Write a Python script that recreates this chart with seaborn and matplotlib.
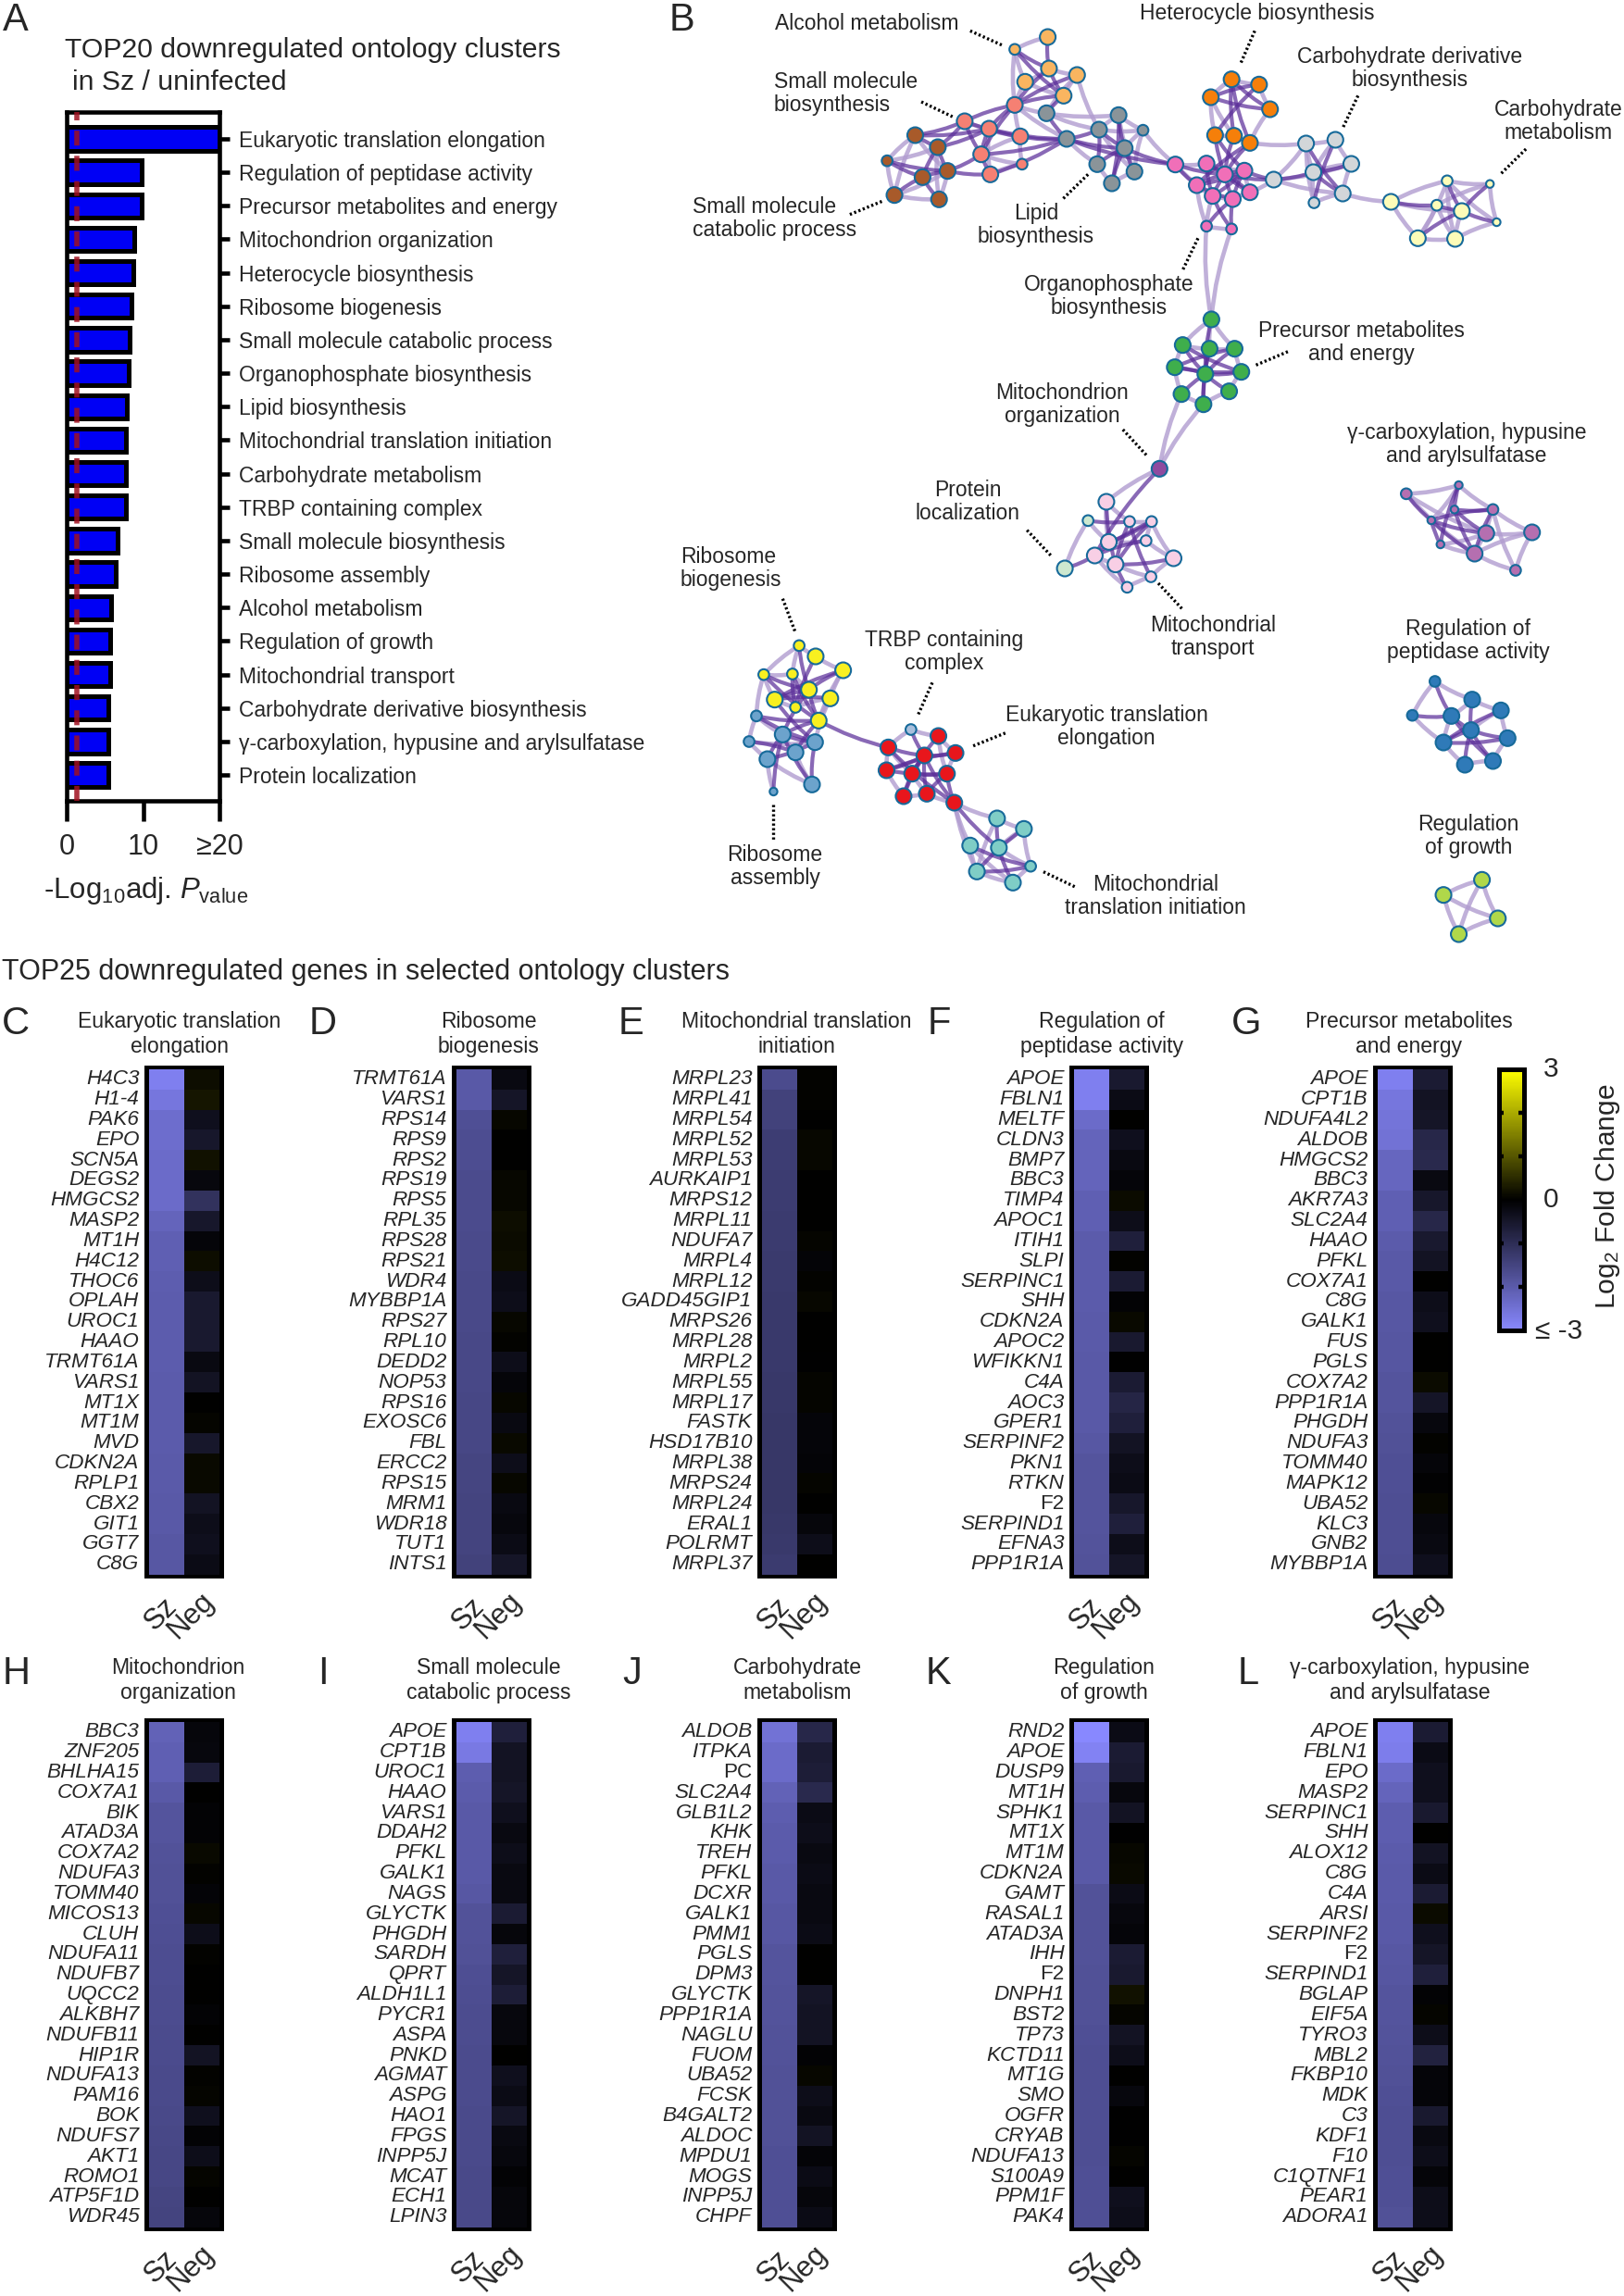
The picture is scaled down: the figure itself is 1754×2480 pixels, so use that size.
import numpy as np
import pandas as pd
import matplotlib
matplotlib.use('Agg')
import matplotlib.pyplot as plt
from matplotlib.colors import LinearSegmentedColormap
from matplotlib.patches import FancyArrowPatch
from matplotlib.spines import Spine
from matplotlib.transforms import ScaledTranslation
import seaborn as sns

W, H = 1754, 2480

# panel A
a_terms = ['Eukaryotic translation elongation', 'Regulation of peptidase activity',
           'Precursor metabolites and energy', 'Mitochondrion organization',
           'Heterocycle biosynthesis', 'Ribosome biogenesis', 'Small molecule catabolic process',
           'Organophosphate biosynthesis', 'Lipid biosynthesis', 'Mitochondrial translation initiation',
           'Carbohydrate metabolism', 'TRBP containing complex', 'Small molecule biosynthesis',
           'Ribosome assembly', 'Alcohol metabolism', 'Regulation of growth', 'Mitochondrial transport',
           'Carbohydrate derivative biosynthesis', 'γ-carboxylation, hypusine and arylsulfatase',
           'Protein localization']
a_values = [20, 9.8, 9.8, 8.9, 8.7, 8.5, 8.2, 8.1, 7.9, 7.8, 7.7, 7.7, 6.7, 6.4, 5.8, 5.7, 5.7, 5.5, 5.4, 5.4]

# panel B network, node positions (crop units, see net_xy)
net_colors = {'al': '#f9b560', 'sm': '#f58073', 'gr': '#8a9499', 'br': '#a85a2a', 'or': '#f57f0a',
              'pk': '#f06fb8', 'lg': '#d2d6d9', 'ly': '#fdfcb8', 'gn': '#3fae4c', 'mp': '#8f4a9f',
              'lp': '#f8cfe5', 'pg': '#cde8cf', 'ma': '#b56fb0', 'ye': '#f8f020', 'st': '#6ca3cc',
              'tb': '#a9bfdc', 're': '#e8161c', 'te': '#7fcdc6', 'bl': '#2f7ab8', 'li': '#b0d84a'}
net_x = {'al': [624, 570, 626, 672, 587, 650],
         'sm': [570, 488, 528, 579, 515, 582, 530],
         'gr': [622, 740, 708, 780, 655, 750, 705, 766, 729],
         'br': [407, 444, 361, 460, 419, 373, 446],
         'or': [925, 970, 891, 988, 898, 929, 955],
         'pk': [833, 884, 946, 914, 868, 955, 894, 927, 884, 925],
         'lg': [994, 1047, 1095, 1121, 1059, 1107, 1060],
         'ly': [1186, 1278, 1348, 1261, 1302, 1359, 1230, 1291],
         'gn': [892, 845, 889, 930, 832, 882, 941, 843, 921, 879],
         'mp': [807],
         'lp': [720, 758, 794, 724, 785, 701, 735, 830, 793, 754],
         'pg': [690, 652],
         'ma': [1211, 1297, 1353, 1290, 1252, 1342, 1417, 1267, 1323, 1390],
         'ye': [217, 244, 289, 159, 206, 233, 268, 177, 211, 249],
         'st': [147, 190, 135, 243, 211, 165, 238, 175],
         'tb': [400],
         're': [445, 363, 422, 473, 360, 402, 459, 388, 426, 471],
         'te': [541, 585, 497, 544, 508, 596, 567],
         'bl': [1258, 1319, 1366, 1221, 1285, 1317, 1377, 1272, 1353, 1307],
         'li': [1335, 1272, 1361, 1297]}
net_y = {'al': [120, 160, 222, 243, 265, 310],
         'sm': [340, 393, 417, 442, 500, 532, 565],
         'gr': [367, 373, 420, 422, 450, 480, 532, 556, 594],
         'br': [438, 477, 521, 554, 574, 632, 646],
         'or': [257, 274, 315, 354, 438, 440, 463],
         'pk': [533, 530, 553, 565, 600, 623, 635, 645, 733, 742],
         'lg': [582, 465, 453, 531, 558, 627, 657],
         'ly': [654, 586, 596, 665, 684, 720, 772, 774],
         'gn': [1035, 1118, 1130, 1130, 1190, 1212, 1205, 1277, 1268, 1310],
         'mp': [1519],
         'lp': [1626, 1690, 1690, 1756, 1752, 1800, 1829, 1809, 1869, 1903],
         'pg': [1687, 1842],
         'ma': [1600, 1572, 1651, 1651, 1686, 1728, 1725, 1764, 1794, 1848],
         'ye': [2092, 2127, 2172, 2186, 2184, 2235, 2263, 2267, 2292, 2335],
         'st': [2320, 2380, 2403, 2405, 2438, 2460, 2542, 2565],
         'tb': [2364],
         're': [2385, 2422, 2448, 2440, 2496, 2507, 2507, 2580, 2572, 2601],
         'te': [2652, 2686, 2740, 2747, 2824, 2807, 2860],
         'bl': [2208, 2267, 2302, 2318, 2320, 2366, 2392, 2406, 2466, 2478],
         'li': [2851, 2900, 2976, 3027]}
net_size = {'al': [0, 1, 0, 0, 0, 0], 'sm': [0, 0, 0, 0, 0, 1, 0],
            'gr': [0, 0, 0, 1, 0, 0, 0, 0, 0], 'br': [0, 0, 1, 0, 0, 0, 0],
            'or': [0] * 7, 'pk': [0, 0, 0, 0, 0, 0, 0, 0, 1, 1],
            'lg': [0, 0, 0, 0, 0, 0, 1], 'ly': [0, 1, 2, 1, 0, 2, 0, 0],
            'gn': [0] * 10, 'mp': [0], 'lp': [0, 1, 1, 0, 1, 0, 0, 0, 1, 1], 'pg': [1, 0],
            'ma': [1, 2, 1, 2, 2, 0, 0, 2, 0, 1], 'ye': [1, 0, 0, 1, 1, 0, 0, 0, 1, 0],
            'st': [1, 0, 1, 0, 0, 0, 0, 2], 'tb': [1], 're': [0] * 10,
            'te': [0, 0, 0, 0, 0, 1, 0], 'bl': [1, 0, 0, 1, 0, 0, 0, 0, 0, 0], 'li': [0] * 4}

edges_light = """al0-al1 al1-al4 al2-al3 al3-al5 al4-al2 al4-al5 al1-sm0 al4-sm0 al3-gr0 al3-gr2
sm1-sm3 sm3-sm4 sm3-sm5 sm4-sm5 sm5-sm6 sm0-sm3 sm2-sm6 sm0-gr0 sm0-gr4
gr1-gr3 gr1-gr2 gr2-gr3 gr3-gr5 gr2-gr7 gr1-gr7 gr6-gr8 gr7-gr8 gr3-gr7 gr0-gr2 gr4-gr6 gr0-gr1 gr3-pk0
br0-br2 br0-br3 br2-br1 br2-br5 br5-br6 br5-br3 br6-br3 br0-br5 br1-br6
or0-or2 or0-or1 or1-or3 or2-or4 or3-or6 or4-or5 or5-or6 or2-or5
pk0-pk1 pk1-pk2 pk2-pk5 pk5-pk7 pk6-pk7 pk4-pk6 pk6-pk8 pk8-pk9 pk4-pk8 pk0-pk6 pk8-gn0 pk9-gn0 pk5-lg0 or6-lg1
lg1-lg2 lg2-lg3 lg3-lg5 lg5-lg6 lg1-lg4 lg1-lg6 lg0-lg1 lg4-lg6 lg0-lg5 lg2-lg4 lg3-lg4 lg0-lg3 lg5-ly0
ly1-ly2 ly2-ly5 ly1-ly5 ly1-ly0 ly0-ly6 ly6-ly7 ly6-ly3 ly3-ly7 ly0-ly4 ly1-ly7 ly2-ly3 ly5-ly7 ly6-ly1 ly4-ly7
gn0-gn1 gn0-gn3 gn1-gn2 gn2-gn3 gn1-gn4 gn3-gn6 gn4-gn7 gn6-gn8 gn7-gn9 gn8-gn9 gn0-gn2 gn7-mp0 gn9-mp0 mp0-lp0
lp0-lp1 lp1-lp2 lp2-lp7 lp7-lp8 lp8-lp9 lp0-lp3 lp3-lp4 lp4-lp7 pg0-lp3 pg0-pg1 lp5-lp6 lp6-lp8 lp5-lp9 lp2-lp4 lp3-lp5
ma0-ma1 ma0-ma5 ma0-ma8 ma1-ma2 ma2-ma6 ma5-ma6 ma5-ma8 ma6-ma8 ma6-ma9 ma8-ma9 ma2-ma9 ma7-ma8 ma2-ma5 ma4-ma1 ma7-ma5
ye0-ye3 ye0-ye1 ye1-ye2 ye2-ye6 ye3-ye7 ye4-ye5 ye6-ye9 ye0-ye4 ye3-ye4 ye7-ye8 ye6-ye8 ye2-ye9
st0-st2 st2-st5 st5-st7 st4-st6 st2-st3 st0-st1 ye3-st0 st1-st4 st5-st6 ye6-st3
tb0-re0 tb0-re1 re0-re3 re3-re6 re1-re4 re4-re7 re7-re8 re8-re9 re5-re8 re1-re5 re0-re6
te0-te1 te1-te5 te2-te4 te4-te6 te5-te6 te3-te5 re9-te0 re9-te2 re9-te4 te0-te4 te1-te3 te2-te6
bl0-bl1 bl0-bl3 bl2-bl6 bl1-bl2 bl4-bl1 bl4-bl7 bl7-bl9 bl8-bl9 bl6-bl8 bl3-bl7 bl2-bl5
li0-li1 li0-li3 li1-li2 li2-li3 li1-li3 li0-li2"""
edges_dark = """al0-al2 al1-al5 al1-al2 al2-al5 al3-sm0 al2-sm0 al5-sm0 al5-gr0
sm0-sm1 sm0-sm2 sm1-sm2 sm1-sm4 sm2-sm4 sm4-sm6 sm2-sm3 sm0-sm4 sm4-gr4 sm2-gr4 sm3-gr4 sm6-gr4
gr0-gr4 gr4-gr5 gr4-gr2 gr2-gr5 gr1-gr5 gr5-gr6 gr5-gr8 gr5-gr7 gr4-pk0 gr5-pk0 gr6-gr2 gr8-gr1
br0-br1 br1-br3 br1-br4 br2-br3 br2-br4 br3-br4 br4-br6 br4-br5 br0-sm1 br1-sm1 br1-sm2 br3-sm4 br3-sm6 br0-sm2
or0-or5 or0-or3 or2-or3 or1-or4 or0-or6 or1-or2 or4-pk3 or5-pk3 or6-pk3 or6-pk4 or4-pk2
pk0-pk3 pk0-pk4 pk1-pk3 pk1-pk6 pk2-pk3 pk2-pk7 pk3-pk4 pk3-pk5 pk3-pk6 pk3-pk7 pk4-pk7 pk4-pk2 pk5-pk1 pk6-pk2
pk7-pk8 pk7-pk9 pk6-pk9 pk3-lg0 pk2-lg0
lg1-lg5 lg2-lg6 lg4-lg5 lg0-lg4 lg4-lg3
ly0-ly3 ly3-ly4 ly1-ly4 ly2-ly4 ly4-ly5 ly4-ly6
gn4-gn6 gn2-gn5 gn1-gn5 gn3-gn5 gn5-gn4 gn5-gn6 gn5-gn7 gn5-gn8 gn5-gn9 gn1-gn6 gn3-gn4 gn2-gn9 gn0-gn5
mp0-lp5 lp0-lp6 lp1-lp6 lp2-lp5 lp2-lp6 lp4-lp5 lp6-lp7 lp3-lp2 lp6-lp9 lp1-lp8 pg0-lp1 pg1-lp5
ma1-ma3 ma1-ma7 ma3-ma2 ma4-ma8 ma4-ma5 ma3-ma5 ma3-ma8 ma2-ma4 ma4-ma7 ma0-ma4 ma2-ma8
ye1-ye8 ye3-ye5 ye3-ye9 ye4-ye9 ye5-ye9 ye2-ye7 ye5-ye7 ye4-ye8 ye0-ye5 ye2-ye5 ye6-ye7
st0-st3 st1-st5 st1-st7 st1-st3 st4-st2 st5-st3 ye9-st1 ye9-st4 ye5-st1 ye7-st3 st3-st6 st1-st6 st0-ye9 ye9-re1
re1-re9 re2-re5 re2-re7 re5-re6 re4-re6 re0-re5 re3-re4 re2-re8 re2-re9 re6-re9 tb0-re2 re1-re2 re2-re3 re4-re2 re5-re7 re6-re8
te0-te3 te1-te4 te2-te5 te3-te6 te4-te5 re9-te3
bl1-bl5 bl3-bl4 bl4-bl5 bl5-bl8 bl5-bl9 bl7-bl6 bl5-bl6 bl2-bl7 bl4-bl8 bl0-bl4 bl5-bl7"""

net_labels = [('Alcohol metabolism', 936, 25, 'center'),
              ('Heterocycle biosynthesis', 1358, 15, 'center'),
              ('Carbohydrate derivative\nbiosynthesis', 1523, 74, 'center'),
              ('Carbohydrate\nmetabolism', 1683, 131, 'center'),
              ('Small molecule\nbiosynthesis', 836, 101, 'left'),
              ('Small molecule\ncatabolic process', 748, 236, 'left'),
              ('Lipid\nbiosynthesis', 1119, 243, 'center'),
              ('Organophosphate\nbiosynthesis', 1198, 320, 'center'),
              ('Precursor metabolites\nand energy', 1470, 370, 'center'),
              ('Mitochondrion\norganization', 1147, 437, 'center'),
              ('γ-carboxylation, hypusine\nand arylsulfatase', 1584, 480, 'center'),
              ('Protein\nlocalization', 1045, 542, 'center'),
              ('Ribosome\nbiogenesis', 735, 614, 'left'),
              ('TRBP containing\ncomplex', 1020, 704, 'center'),
              ('Eukaryotic translation\nelongation', 1195, 785, 'center'),
              ('Mitochondrial\ntransport', 1310, 688, 'center'),
              ('Regulation of\npeptidase activity', 1586, 692, 'center'),
              ('Ribosome\nassembly', 837, 936, 'center'),
              ('Mitochondrial\ntranslation initiation', 1248, 968, 'center'),
              ('Regulation\nof growth', 1586, 903, 'center')]
net_leaders = [(497, 100, 550, 147), (963, 100, 940, 205), (1132, 310, 1107, 415), (1407, 483, 1365, 565),
               (417, 330, 468, 378), (300, 695, 353, 652), (690, 565, 647, 648), (870, 772, 845, 875),
               (965, 1183, 1020, 1137), (747, 1392, 787, 1478), (590, 1718, 630, 1802), (190, 1940, 210, 2045),
               (435, 2212, 412, 2315), (502, 2417, 555, 2375), (805, 1890, 845, 1975), (175, 2608, 175, 2720),
               (617, 2825, 670, 2875)]

# panels C-L
genes_c = ['H4C3', 'H1-4', 'PAK6', 'EPO', 'SCN5A', 'DEGS2', 'HMGCS2', 'MASP2', 'MT1H', 'H4C12', 'THOC6', 'OPLAH',
           'UROC1', 'HAAO', 'TRMT61A', 'VARS1', 'MT1X', 'MT1M', 'MVD', 'CDKN2A', 'RPLP1', 'CBX2', 'GIT1', 'GGT7', 'C8G']
sz_c = [-2.8, -2.6, -2.4, -2.4, -2.35, -2.35, -2.35, -2.2, -2.1, -2.1, -2.05, -2.03, -2.03, -2.02, -2.02, -2.0, -2.0,
        -2.0, -2.0, -1.98, -1.98, -1.95, -1.95, -1.92, -1.92]
neg_c = [.15, .25, -.35, -.5, .2, -.15, -1.1, -.5, -.1, .15, -.3, -.55, -.55, -.55, -.2, -.4, 0, .05, -.5, .1, .1,
         -.4, -.3, -.35, -.25]
genes_d = ['TRMT61A', 'VARS1', 'RPS14', 'RPS9', 'RPS2', 'RPS19', 'RPS5', 'RPL35', 'RPS28', 'RPS21', 'WDR4', 'MYBBP1A',
           'RPS27', 'RPL10', 'DEDD2', 'NOP53', 'RPS16', 'EXOSC6', 'FBL', 'ERCC2', 'RPS15', 'MRM1', 'WDR18', 'TUT1', 'INTS1']
sz_d = [-1.95, -1.95, -1.75, -1.7, -1.7, -1.65, -1.65, -1.65, -1.62, -1.62, -1.6, -1.6, -1.6, -1.58, -1.58, -1.58,
        -1.55, -1.55, -1.55, -1.52, -1.52, -1.5, -1.5, -1.48, -1.45]
neg_d = [-.2, -.45, .08, 0, .02, .08, .08, .15, .12, .15, -.25, -.3, .08, .03, -.3, -.1, .08, -.2, .1, -.3, .08,
         -.2, -.15, -.25, -.45]
genes_e = ['MRPL23', 'MRPL41', 'MRPL54', 'MRPL52', 'MRPL53', 'AURKAIP1', 'MRPS12', 'MRPL11', 'NDUFA7', 'MRPL4', 'MRPL12',
           'GADD45GIP1', 'MRPS26', 'MRPL28', 'MRPL2', 'MRPL55', 'MRPL17', 'FASTK', 'HSD17B10', 'MRPL38', 'MRPS24', 'MRPL24',
           'ERAL1', 'POLRMT', 'MRPL37']
sz_e = [-1.65, -1.45, -1.45, -1.35, -1.35, -1.32, -1.32, -1.3, -1.3, -1.28, -1.28, -1.25, -1.25, -1.25, -1.25, -1.22,
        -1.22, -1.2, -1.2, -1.2, -1.2, -1.2, -1.22, -1.25, -1.3]
neg_e = [.04, .04, 0, .08, .08, 0, 0, 0, .06, -.08, .03, .08, 0, 0, -.02, .07, .06, -.1, -.1, -.08, .05, 0, -.12, -.3, 0]
genes_f = ['APOE', 'FBLN1', 'MELTF', 'CLDN3', 'BMP7', 'BBC3', 'TIMP4', 'APOC1', 'ITIH1', 'SLPI', 'SERPINC1', 'SHH', 'CDKN2A',
           'APOC2', 'WFIKKN1', 'C4A', 'AOC3', 'GPER1', 'SERPINF2', 'PKN1', 'RTKN', 'F2', 'SERPIND1', 'EFNA3', 'PPP1R1A']
sz_f = [-2.8, -2.8, -2.35, -2.2, -2.2, -2.2, -2.1, -2.1, -2.0, -2.0, -2.0, -2.0, -1.98, -1.98, -1.95, -1.95, -1.95,
        -1.95, -1.92, -1.85, -1.85, -1.85, -1.85, -1.82, -1.8]
neg_f = [-.55, -.25, 0, -.35, -.2, -.1, .12, -.3, -.7, .03, -.6, -.05, .1, -.55, -.02, -.6, -.8, -.7, -.4, -.3, -.25,
         -.5, -.7, -.3, -.45]
genes_g = ['APOE', 'CPT1B', 'NDUFA4L2', 'ALDOB', 'HMGCS2', 'BBC3', 'AKR7A3', 'SLC2A4', 'HAAO', 'PFKL', 'COX7A1', 'C8G', 'GALK1',
           'FUS', 'PGLS', 'COX7A2', 'PPP1R1A', 'PHGDH', 'NDUFA3', 'TOMM40', 'MAPK12', 'UBA52', 'KLC3', 'GNB2', 'MYBBP1A']
sz_g = [-2.8, -2.6, -2.55, -2.5, -2.25, -2.25, -2.1, -2.1, -2.0, -1.95, -1.95, -1.92, -1.92, -1.88, -1.88, -1.85, -1.85,
        -1.8, -1.78, -1.75, -1.75, -1.72, -1.72, -1.72, -1.7]
neg_g = [-.6, -.4, -.45, -.85, -.9, -.2, -.5, -.85, -.55, -.4, 0, -.3, -.35, 0, 0, .12, -.45, -.15, .04, -.1, -.03,
         .08, -.15, -.2, -.35]
genes_h = ['BBC3', 'ZNF205', 'BHLHA15', 'COX7A1', 'BIK', 'ATAD3A', 'COX7A2', 'NDUFA3', 'TOMM40', 'MICOS13', 'CLUH', 'NDUFA11',
           'NDUFB7', 'UQCC2', 'ALKBH7', 'NDUFB11', 'HIP1R', 'NDUFA13', 'PAM16', 'BOK', 'NDUFS7', 'AKT1', 'ROMO1', 'ATP5F1D', 'WDR45']
sz_h = [-2.15, -2.1, -2.1, -1.95, -1.85, -1.85, -1.8, -1.78, -1.78, -1.75, -1.72, -1.7, -1.7, -1.68, -1.68, -1.65,
        -1.65, -1.62, -1.62, -1.6, -1.58, -1.55, -1.55, -1.52, -1.5]
neg_h = [-.12, -.15, -.65, 0, -.05, -.05, .1, .03, -.08, .08, -.3, .03, 0, 0, -.06, .02, -.4, .04, .07, -.35, -.06,
         -.3, .05, .02, -.12]
genes_i = ['APOE', 'CPT1B', 'UROC1', 'HAAO', 'VARS1', 'DDAH2', 'PFKL', 'GALK1', 'NAGS', 'GLYCTK', 'PHGDH', 'SARDH', 'QPRT',
           'ALDH1L1', 'PYCR1', 'ASPA', 'PNKD', 'AGMAT', 'ASPG', 'HAO1', 'FPGS', 'INPP5J', 'MCAT', 'ECH1', 'LPIN3']
sz_i = [-2.8, -2.65, -2.05, -2.0, -1.95, -1.95, -1.95, -1.95, -1.9, -1.8, -1.8, -1.78, -1.72, -1.7, -1.68, -1.68,
        -1.65, -1.65, -1.65, -1.62, -1.62, -1.62, -1.6, -1.6, -1.6]
neg_i = [-.7, -.4, -.4, -.45, -.35, -.2, -.3, -.2, -.2, -.6, -.12, -.7, -.45, -.65, -.15, -.15, 0, -.35, -.25, -.45,
         -.2, -.15, -.05, -.12, -.12]
genes_j = ['ALDOB', 'ITPKA', 'PC', 'SLC2A4', 'GLB1L2', 'KHK', 'TREH', 'PFKL', 'DCXR', 'GALK1', 'PMM1', 'PGLS', 'DPM3', 'GLYCTK',
           'PPP1R1A', 'NAGLU', 'FUOM', 'UBA52', 'FCSK', 'B4GALT2', 'ALDOC', 'MPDU1', 'MOGS', 'INPP5J', 'CHPF']
sz_j = [-2.5, -2.35, -2.35, -2.15, -2.05, -2.0, -2.0, -1.95, -1.95, -1.9, -1.9, -1.85, -1.85, -1.82, -1.82, -1.8, -1.8,
        -1.78, -1.78, -1.78, -1.78, -1.75, -1.75, -1.75, -1.75]
neg_j = [-.85, -.6, -.65, -.9, -.25, -.3, -.2, -.25, -.2, -.2, -.25, 0, 0, -.45, -.4, -.4, -.05, .08, -.3, -.2, -.4,
         -.08, -.25, -.12, -.25]
genes_k = ['RND2', 'APOE', 'DUSP9', 'MT1H', 'SPHK1', 'MT1X', 'MT1M', 'CDKN2A', 'GAMT', 'RASAL1', 'ATAD3A', 'IHH', 'F2', 'DNPH1',
           'BST2', 'TP73', 'KCTD11', 'MT1G', 'SMO', 'OGFR', 'CRYAB', 'NDUFA13', 'S100A9', 'PPM1F', 'PAK4']
sz_k = [-3.0, -2.85, -2.1, -2.05, -1.95, -1.95, -1.95, -1.95, -1.8, -1.8, -1.8, -1.8, -1.78, -1.78, -1.78, -1.75, -1.72,
        -1.72, -1.72, -1.72, -1.72, -1.72, -1.75, -1.75, -1.75]
neg_k = [-.25, -.6, -.55, -.15, -.4, -.02, .08, .1, -.25, -.15, -.1, -.6, -.55, .2, .05, -.4, -.3, 0, -.15, -.02,
         -.02, .05, 0, -.35, -.3]
genes_l = ['APOE', 'FBLN1', 'EPO', 'MASP2', 'SERPINC1', 'SHH', 'ALOX12', 'C8G', 'C4A', 'ARSI', 'SERPINF2', 'F2', 'SERPIND1',
           'BGLAP', 'EIF5A', 'TYRO3', 'MBL2', 'FKBP10', 'MDK', 'C3', 'KDF1', 'F10', 'C1QTNF1', 'PEAR1', 'ADORA1']
sz_l = [-2.8, -2.75, -2.35, -2.2, -2.05, -2.05, -2.0, -1.98, -1.98, -1.95, -1.95, -1.9, -1.88, -1.85, -1.85, -1.82,
        -1.8, -1.78, -1.75, -1.72, -1.72, -1.72, -1.75, -1.75, -1.78]
neg_l = [-.6, -.25, -.35, -.35, -.55, 0, -.4, -.25, -.6, .12, -.35, -.45, -.7, -.05, .06, -.3, -.75, -.1, -.1, -.55,
         -.2, -.3, -.1, -.3, -.3]

titles = {'C': 'Eukaryotic translation\nelongation', 'D': 'Ribosome\nbiogenesis',
          'E': 'Mitochondrial translation\ninitiation', 'F': 'Regulation of\npeptidase activity',
          'G': 'Precursor metabolites\nand energy', 'H': 'Mitochondrion\norganization',
          'I': 'Small molecule\ncatabolic process', 'J': 'Carbohydrate\nmetabolism',
          'K': 'Regulation\nof growth', 'L': 'γ-carboxylation, hypusine\nand arylsulfatase'}
panel_data = {'C': (genes_c, sz_c, neg_c), 'D': (genes_d, sz_d, neg_d), 'E': (genes_e, sz_e, neg_e),
              'F': (genes_f, sz_f, neg_f), 'G': (genes_g, sz_g, neg_g), 'H': (genes_h, sz_h, neg_h),
              'I': (genes_i, sz_i, neg_i), 'J': (genes_j, sz_j, neg_j), 'K': (genes_k, sz_k, neg_k),
              'L': (genes_l, sz_l, neg_l)}
upright = ['F2', 'PC']
conditions = ['Sz', 'Neg']

sns.set_style('white')
plt.rcParams['font.family'] = ['Liberation Sans', 'DejaVu Sans']
plt.rcParams['mathtext.fontset'] = 'custom'
plt.rcParams['mathtext.rm'] = 'Liberation Sans'
plt.rcParams['mathtext.it'] = 'Liberation Sans:italic'
plt.rcParams['mathtext.default'] = 'regular'

fig = plt.figure(figsize=(W / 100, H / 100), dpi=100)


def px_axes(x0, y0, x1, y1, **kw):
    return fig.add_axes([x0 / W, 1 - y1 / H, (x1 - x0) / W, (y1 - y0) / H], **kw)


def net_xy(x, y):
    # crop units to figure pixels
    return 720 + x / 1.516, y / 3


#overlay for network and loose text
over = px_axes(0, 0, W, H, facecolor='none')
over.axis('off')

rows = []
for key in net_x:
    for i, (x, y, s) in enumerate(zip(net_x[key], net_y[key], net_size[key])):
        fx, fy = net_xy(x, y)
        rows.append({'id': f'{key}{i}', 'cluster': key, 'x': fx, 'y': fy, 'size': s})
nodes = pd.DataFrame(rows)
pos = nodes.set_index('id')[['x', 'y']]


def draw_edges(spec, color, lw, alpha, zorder):
    for pair in spec.split():
        a, b = pair.split('-')
        over.add_patch(FancyArrowPatch(tuple(pos.loc[a]), tuple(pos.loc[b]), arrowstyle='-', shrinkA=0, shrinkB=0,
                                       connectionstyle='arc3,rad=0.07', color=color, lw=lw, alpha=alpha, zorder=zorder))


draw_edges(edges_light, '#b19cd0', 3.3, .8, 2)
draw_edges(edges_dark, '#5c2f9a', 3.0, .72, 3)
sns.scatterplot(data=nodes, x='x', y='y', hue='cluster', palette=net_colors, size='size',
                sizes={0: 150, 1: 70, 2: 36}, edgecolor='#176a9a', linewidth=1.5, legend=False, ax=over, zorder=5)
over.set_xlim(0, W)
over.set_ylim(H, 0)
over.set_xlabel('')
over.set_ylabel('')

for x0, y0, x1, y1 in net_leaders:
    ax0, ay0 = net_xy(x0, y0)
    ax1, ay1 = net_xy(x1, y1)
    over.plot([ax0, ax1], [ay0, ay1], color='black', lw=2.4, ls=(0, (.7, .8)), zorder=4)
for text, x, y, ha in net_labels:
    over.text(x, y, text, ha=ha, va='center', fontsize=16.5, linespacing=1.14,
              multialignment='left' if ha == 'left' else 'center')

#panel letters
letters = {'A': (3, 22), 'B': (723, 22), 'C': (2, 1106), 'D': (334, 1106), 'E': (668, 1106), 'F': (1002, 1106),
           'G': (1330, 1106), 'H': (3, 1808), 'I': (343, 1808), 'J': (672, 1808), 'K': (1000, 1808), 'L': (1337, 1808)}
for letter, (x, y) in letters.items():
    over.text(x, y, letter, fontsize=30, ha='left', va='center')

#headers
over.text(70, 54, 'TOP20 downregulated ontology clusters', fontsize=21.7, va='center')
over.text(78, 89, 'in Sz / uninfected', fontsize=21.7, va='center')
over.text(2, 1050, 'TOP25 downregulated genes in selected ontology clusters', fontsize=22, va='center')
over.text(158, 962, r'-Log$_{10}$adj. $\mathit{P}_{value}$', fontsize=22.5, ha='center', va='center')

#panel A
ax_a = px_axes(72, 121, 237, 865)
sns.barplot(x=a_values, y=a_terms, orient='h', color='#0000f5', saturation=1, width=.7, edgecolor='black',
            linewidth=3.6, ax=ax_a)
ax_a.set_xlim(0, 20)
ax_a.set_ylim(19.77, -.8)
ax_a.axvline(1.3, color='#a01020', lw=4, ls=(0, (2.9, 2)), alpha=.85, zorder=6)
ax_a.yaxis.tick_right()
ax_a.set_xticks([0, 10, 20])
ax_a.set_xticklabels(['0', '10', '≥20'], fontsize=22)
ax_a.tick_params(axis='x', length=16, width=3.3, color='black', pad=9, bottom=True)
ax_a.tick_params(axis='y', length=8, width=3.3, color='black', pad=7, labelsize=16.5, right=True)
for spine in ax_a.spines.values():
    spine.set_color('black')
    spine.set_linewidth(3.3)

#heatmaps
cmap = LinearSegmentedColormap.from_list('fc', ['#8888ff', '#000000', '#ffff00'])
xs = {'C': 156, 'D': 488, 'E': 818, 'F': 1155, 'G': 1483, 'H': 156, 'I': 488, 'J': 818, 'K': 1155, 'L': 1483}
title_x = {'C': 194, 'D': 528, 'E': 860, 'F': 1190, 'G': 1522, 'H': 192, 'I': 528, 'J': 861, 'K': 1192, 'L': 1523}
shift_sz = ScaledTranslation(-4 / 100, 0, fig.dpi_scale_trans)
shift_neg = ScaledTranslation(-2 / 100, 6 / 100, fig.dpi_scale_trans)
cax = px_axes(1619, 1155, 1645.5, 1437)
for key, (genes, sz, neg) in panel_data.items():
    first_row = key in 'CDEFG'
    top = 1151 if first_row else 1856
    bottom = top + 553.5
    ax = px_axes(xs[key], top, xs[key] + 86, bottom, facecolor='black')
    df = pd.DataFrame({'Sz': sz, 'Neg': neg}, index=genes)[conditions]
    if key == 'G':
        sns.heatmap(df, ax=ax, cmap=cmap, vmin=-3, vmax=3, cbar_ax=cax, yticklabels=True, xticklabels=True)
    else:
        sns.heatmap(df, ax=ax, cmap=cmap, vmin=-3, vmax=3, cbar=False, yticklabels=True, xticklabels=True)
    ax.set_xlim(-.125, 2.125)
    ax.set_ylim(25.18, -.18)
    ax.tick_params(axis='both', length=0)
    ax.tick_params(axis='y', pad=4)
    ax.set_yticklabels(genes, rotation=0, fontsize=16.2)
    for lab in ax.get_yticklabels():
        lab.set_style('normal' if lab.get_text() in upright else 'italic')
    ax.set_xticklabels(conditions, rotation=45, ha='right', rotation_mode='anchor', fontsize=22.5)
    ax.tick_params(axis='x', pad=11)
    sz_lab, neg_lab = ax.get_xticklabels()
    sz_lab.set_transform(sz_lab.get_transform() + shift_sz)
    neg_lab.set_transform(neg_lab.get_transform() + shift_neg)
    for spine in ax.spines.values():
        spine.set_visible(False)
    title_y = top - 34 if first_row else top - 41
    over.text(title_x[key], title_y, titles[key], ha='center', va='center', fontsize=16.6, linespacing=1.2)

#colorbar
cax.set_yticks([])
for v in [-2, -1, 1, 2]:
    cax.plot([0, .2], [v, v], color='black', lw=3.2, solid_capstyle='butt')
    cax.plot([.8, 1], [v, v], color='black', lw=3.2, solid_capstyle='butt')
cax.set_ylim(-3, 3)
for child in cax.get_children():
    if isinstance(child, Spine):
        child.set_visible(True)
        child.set_color('black')
        child.set_linewidth(3.6)
over.text(1675, 1155, '3', fontsize=21.5, ha='center', va='center')
over.text(1675, 1296, '0', fontsize=21.5, ha='center', va='center')
over.text(1658, 1438, '≤ -3', fontsize=21.5, ha='left', va='center')
over.text(1736, 1292, r'Log$_2$ Fold Change', rotation=90, fontsize=21.6, ha='center', va='center')

fig.savefig('out.png', dpi=100)
